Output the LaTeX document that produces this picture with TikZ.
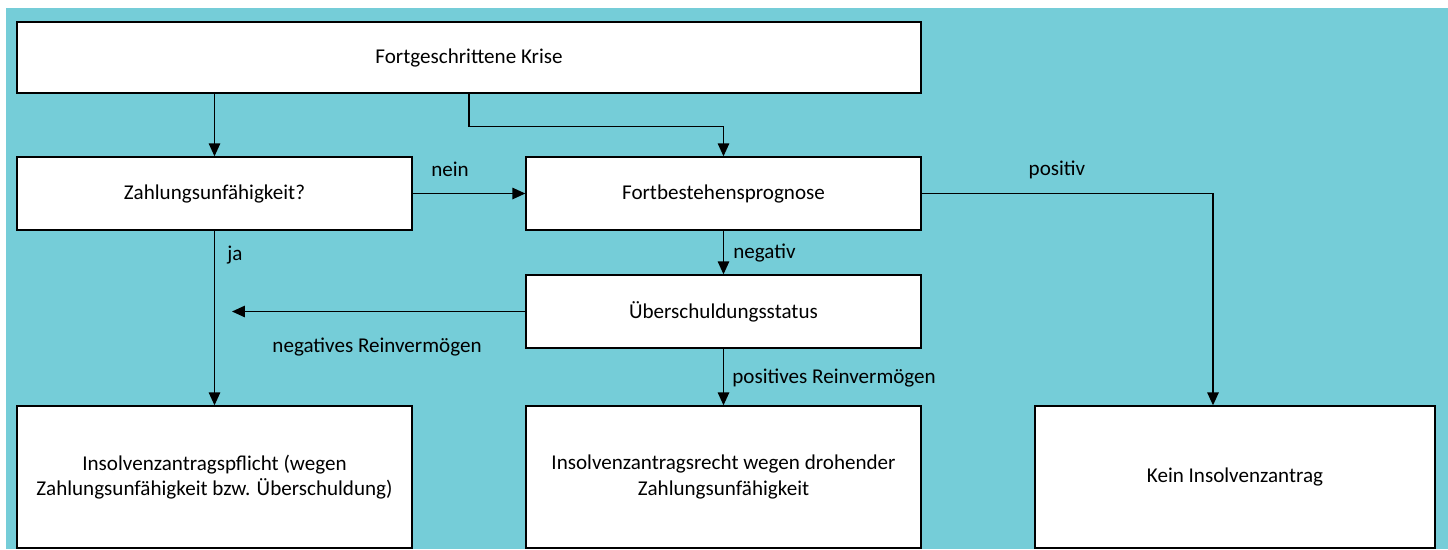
\documentclass[tikz,border=0pt]{standalone}
\usepackage{fontspec}
\setmainfont{Carlito}
\usetikzlibrary{arrows.meta}
\definecolor{krisenblau}{RGB}{117,205,216}

\begin{document}
\begin{tikzpicture}[x=0.02cm,y=-0.02cm,box/.style={shape=rectangle,draw=black,fill=white,line width=0.8pt,align=center,inner sep=0pt,font=\fontsize{12}{14.3}\selectfont},boxS/.style={box,minimum width=7.9cm,minimum height=1.46cm},boxL/.style={box,minimum width=7.9cm,minimum height=2.84cm},lbl/.style={font=\fontsize{12}{14}\selectfont,inner sep=0pt},arr/.style={line width=0.8pt,-{Triangle[length=0.26cm,width=0.23cm]}}]
\def\xl{214.5};
\def\xm{723.5};
\def\xr{1235};

\useasboundingbox (0,0) rectangle (1448,549);
\fill[white] (0,0) rectangle (1448,549);
\fill[krisenblau] (6,8) rectangle (1448,549);

\node[box,minimum width=18.08cm,minimum height=1.42cm] (krise) at (469,57.5) {Fortgeschrittene Krise};
\node[boxS] (zahlung) at (\xl,193.5) {Zahlungsunfähigkeit?};
\node[boxS] (prognose) at (\xm,193.5) {Fortbestehensprognose};
\node[boxS] (status) at (\xm,311.5) {Überschuldungsstatus};
\node[boxL] (pflicht) at (\xl,477) {Insolvenzantragspflicht (wegen\\Zahlungsunfähigkeit bzw. Überschuldung)};
\node[boxL] (recht) at (\xm,477) {Insolvenzantragsrecht wegen drohender\\Zahlungsunfähigkeit};
\node[boxL,minimum width=8cm] (kein) at (\xr,477) {Kein Insolvenzantrag};

\coordinate (knick) at (1213,193.5);
\coordinate (links) at (232,311.5);

\draw[arr] (zahlung.north |- krise.south) -- (zahlung.north);
\draw[arr] (krise.south) -- ++(0,33) -| (prognose.north);
\draw[arr] (zahlung.east) -- (prognose.west);
\draw[arr] (prognose.south) -- (status.north);
\draw[arr] (prognose.east) -- (knick) -- (knick |- kein.north);
\draw[arr] (zahlung.south) -- (pflicht.north);
\draw[arr] (status.west) -- (links);
\draw[arr] (status.south) -- (recht.north);

\node[lbl] (nein) at (450,169) {nein};
\node[lbl,anchor=west] (neg) at (733,253) {negativ};
\node[lbl] (pos) at (1057,170) {positiv};
\node[lbl,anchor=west] (ja) at (227,255) {ja};
\node[lbl] (negrv) at (377,347) {negatives Reinvermögen};
\node[lbl,anchor=west] (posrv) at (732,378) {positives Reinvermögen};
\end{tikzpicture}
\end{document}
